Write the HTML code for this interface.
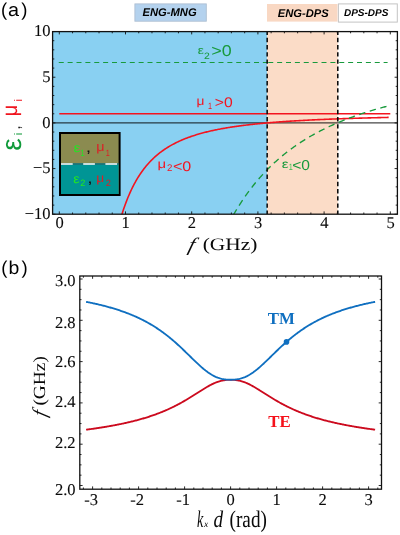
<!DOCTYPE html>
<html><head><meta charset="utf-8"><title>figure</title>
<style>html,body{margin:0;padding:0;background:#fff}svg{display:block;will-change:transform}</style></head>
<body>
<svg width="400" height="535" viewBox="0 0 400 535" text-rendering="geometricPrecision">
<rect width="400" height="535" fill="#fff"/>
<rect x="134.9" y="3.9" width="71.4" height="17.3" fill="#b4d2ee" stroke="#aebfd2" stroke-width="0.9"/>
<text x="169.6" y="16.1" text-anchor="middle" font-family="Liberation Sans, sans-serif" font-weight="bold" font-style="italic" font-size="11.2" fill="#000">ENG-MNG</text>
<rect x="267" y="4" width="70.5" height="17.6" fill="#f9d8c3"/>
<text x="303.2" y="16.6" text-anchor="middle" font-family="Liberation Sans, sans-serif" font-weight="bold" font-style="italic" font-size="11.2" fill="#000">ENG-DPS</text>
<rect x="338.4" y="3.9" width="58.9" height="18.2" fill="#fff" stroke="#c4c4c4" stroke-width="1"/>
<text x="366.2" y="16" text-anchor="middle" font-family="Liberation Sans, sans-serif" font-weight="bold" font-style="italic" font-size="10" fill="#000">DPS-DPS</text>
<text transform="translate(1.05,15.7) scale(1.0,1)" font-family="Liberation Sans, sans-serif" font-size="18.5" fill="#000">(</text>
<text transform="translate(7.97,15.7) scale(1.07,1)" font-family="Liberation Sans, sans-serif" font-size="18.5" fill="#000">a</text>
<text transform="translate(21.19,15.7) scale(1.0,1)" font-family="Liberation Sans, sans-serif" font-size="18.5" fill="#000">)</text>
<text transform="translate(1.35,273.7) scale(1.0,1)" font-family="Liberation Sans, sans-serif" font-size="18.5" fill="#000">(</text>
<text transform="translate(8.46,273.7) scale(1.05,1)" font-family="Liberation Sans, sans-serif" font-size="18.5" fill="#000">b</text>
<text transform="translate(21.49,273.7) scale(1.0,1)" font-family="Liberation Sans, sans-serif" font-size="18.5" fill="#000">)</text>
<rect x="52.6" y="31.6" width="214.57" height="182.60" fill="#89d0f2"/>
<rect x="267.17" y="31.6" width="70.63" height="182.60" fill="#fbdcc7"/>
<clipPath id="ca"><rect x="52.6" y="31.6" width="344.80" height="182.60"/></clipPath>
<g clip-path="url(#ca)" fill="none">
<line x1="52.6" x2="397.4" y1="122.90" y2="122.90" stroke="#000" stroke-opacity="0.72" stroke-width="1.25"/>
<path d="M58.75,62.5H267.5M268.25,62.5H387.6" stroke="#189a3c" stroke-width="1.2" stroke-dasharray="5 3.875"/>
<line x1="59.30" x2="390.30" y1="113.77" y2="113.77" stroke="#f3141f" stroke-width="1.5"/>
<path d="M120.87,217.90 L121.76,214.94 L122.66,212.10 L123.55,209.37 L124.45,206.76 L125.34,204.26 L126.24,201.85 L127.14,199.54 L128.03,197.32 L128.93,195.19 L129.82,193.13 L130.72,191.15 L131.61,189.25 L132.51,187.41 L133.40,185.64 L134.30,183.94 L135.20,182.29 L136.09,180.70 L136.99,179.17 L137.88,177.69 L138.78,176.25 L139.67,174.87 L140.57,173.53 L141.46,172.23 L142.36,170.98 L143.26,169.76 L144.15,168.59 L145.05,167.45 L145.94,166.35 L146.84,165.28 L147.73,164.24 L148.63,163.23 L149.52,162.25 L150.42,161.30 L151.32,160.38 L152.21,159.49 L153.11,158.62 L154.00,157.78 L154.90,156.96 L155.79,156.16 L156.69,155.38 L157.58,154.63 L158.48,153.89 L159.38,153.18 L160.27,152.48 L161.17,151.80 L162.06,151.14 L162.96,150.50 L163.85,149.87 L164.75,149.26 L165.65,148.67 L166.54,148.09 L167.44,147.52 L168.33,146.97 L169.23,146.43 L170.12,145.90 L171.02,145.39 L171.91,144.89 L172.81,144.40 L173.71,143.92 L174.60,143.46 L175.50,143.00 L176.39,142.55 L177.29,142.12 L178.18,141.69 L179.08,141.28 L179.97,140.87 L180.87,140.47 L181.77,140.08 L182.66,139.70 L183.56,139.33 L184.45,138.97 L185.35,138.61 L186.24,138.26 L187.14,137.92 L188.03,137.58 L188.93,137.25 L189.83,136.93 L190.72,136.62 L191.62,136.31 L192.51,136.01 L193.41,135.71 L194.30,135.42 L195.20,135.14 L196.09,134.86 L196.99,134.58 L197.89,134.32 L198.78,134.05 L199.68,133.80 L200.57,133.54 L201.47,133.29 L202.36,133.05 L203.26,132.81 L204.16,132.58 L205.05,132.35 L205.95,132.12 L206.84,131.90 L207.74,131.68 L208.63,131.46 L209.53,131.25 L210.42,131.05 L211.32,130.84 L212.22,130.65 L213.11,130.45 L214.01,130.26 L214.90,130.07 L215.80,129.88 L216.69,129.70 L217.59,129.52 L218.48,129.34 L219.38,129.17 L220.28,129.00 L221.17,128.83 L222.07,128.66 L222.96,128.50 L223.86,128.34 L224.75,128.18 L225.65,128.03 L226.54,127.88 L227.44,127.73 L228.34,127.58 L229.23,127.43 L230.13,127.29 L231.02,127.15 L231.92,127.01 L232.81,126.88 L233.71,126.74 L234.60,126.61 L235.50,126.48 L236.40,126.35 L237.29,126.22 L238.19,126.10 L239.08,125.98 L239.98,125.86 L240.87,125.74 L241.77,125.62 L242.67,125.50 L243.56,125.39 L244.46,125.28 L245.35,125.17 L246.25,125.06 L247.14,124.95 L248.04,124.85 L248.93,124.74 L249.83,124.64 L250.73,124.54 L251.62,124.44 L252.52,124.34 L253.41,124.24 L254.31,124.14 L255.20,124.05 L256.10,123.96 L256.99,123.86 L257.89,123.77 L258.79,123.68 L259.68,123.60 L260.58,123.51 L261.47,123.42 L262.37,123.34 L263.26,123.25 L264.16,123.17 L265.05,123.09 L265.95,123.01 L266.85,122.93 L267.74,122.85 L268.64,122.77 L269.53,122.70 L270.43,122.62 L271.32,122.55 L272.22,122.47 L273.11,122.40 L274.01,122.33 L274.91,122.26 L275.80,122.19 L276.70,122.12 L277.59,122.05 L278.49,121.98 L279.38,121.91 L280.28,121.85 L281.18,121.78 L282.07,121.72 L282.97,121.66 L283.86,121.59 L284.76,121.53 L285.65,121.47 L286.55,121.41 L287.44,121.35 L288.34,121.29 L289.24,121.23 L290.13,121.17 L291.03,121.12 L291.92,121.06 L292.82,121.00 L293.71,120.95 L294.61,120.89 L295.50,120.84 L296.40,120.79 L297.30,120.73 L298.19,120.68 L299.09,120.63 L299.98,120.58 L300.88,120.53 L301.77,120.48 L302.67,120.43 L303.56,120.38 L304.46,120.33 L305.36,120.28 L306.25,120.24 L307.15,120.19 L308.04,120.14 L308.94,120.10 L309.83,120.05 L310.73,120.01 L311.62,119.96 L312.52,119.92 L313.42,119.88 L314.31,119.83 L315.21,119.79 L316.10,119.75 L317.00,119.71 L317.89,119.67 L318.79,119.63 L319.69,119.59 L320.58,119.55 L321.48,119.51 L322.37,119.47 L323.27,119.43 L324.16,119.39 L325.06,119.35 L325.95,119.32 L326.85,119.28 L327.75,119.24 L328.64,119.21 L329.54,119.17 L330.43,119.13 L331.33,119.10 L332.22,119.06 L333.12,119.03 L334.01,119.00 L334.91,118.96 L335.81,118.93 L336.70,118.89 L337.60,118.86 L338.49,118.83 L339.39,118.80 L340.28,118.76 L341.18,118.73 L342.07,118.70 L342.97,118.67 L343.87,118.64 L344.76,118.61 L345.66,118.58 L346.55,118.55 L347.45,118.52 L348.34,118.49 L349.24,118.46 L350.13,118.43 L351.03,118.40 L351.93,118.37 L352.82,118.35 L353.72,118.32 L354.61,118.29 L355.51,118.26 L356.40,118.24 L357.30,118.21 L358.20,118.18 L359.09,118.16 L359.99,118.13 L360.88,118.10 L361.78,118.08 L362.67,118.05 L363.57,118.03 L364.46,118.00 L365.36,117.98 L366.26,117.95 L367.15,117.93 L368.05,117.91 L368.94,117.88 L369.84,117.86 L370.73,117.83 L371.63,117.81 L372.52,117.79 L373.42,117.77 L374.32,117.74 L375.21,117.72 L376.11,117.70 L377.00,117.68 L377.90,117.65 L378.79,117.63 L379.69,117.61 L380.58,117.59 L381.48,117.57 L382.38,117.55 L383.27,117.53 L384.17,117.51 L385.06,117.48 L385.96,117.46 L386.85,117.44 L387.75,117.42 L388.64,117.40" stroke="#f3141f" stroke-width="1.6"/>
<path d="M228.11,224.60 L228.92,223.08 L229.72,221.57 L230.53,220.09 L231.33,218.63 L232.14,217.19 L232.94,215.76 L233.75,214.36 L234.55,212.98 L235.36,211.62 L236.16,210.27 L236.97,208.94 L237.77,207.64 L238.58,206.34 L239.38,205.07 L240.19,203.81 L240.99,202.57 L241.80,201.35 L242.60,200.14 L243.41,198.95 L244.21,197.77 L245.02,196.61 L245.82,195.46 L246.63,194.33 L247.43,193.22 L248.24,192.11 L249.04,191.02 L249.85,189.95 L250.65,188.89 L251.46,187.84 L252.26,186.80 L253.07,185.78 L253.87,184.77 L254.68,183.77 L255.48,182.79 L256.29,181.82 L257.09,180.86 L257.90,179.91 L258.70,178.97 L259.51,178.04 L260.31,177.13 L261.12,176.22 L261.92,175.33 L262.73,174.44 L263.53,173.57 L264.34,172.71 L265.14,171.86 L265.95,171.01 L266.75,170.18 L267.56,169.36 L268.36,168.55 L269.17,167.74 L269.97,166.95 L270.78,166.16 L271.58,165.38 L272.39,164.62 L273.19,163.86 L274.00,163.10 L274.80,162.36 L275.61,161.63 L276.41,160.90 L277.22,160.18 L278.02,159.47 L278.83,158.77 L279.63,158.08 L280.44,157.39 L281.24,156.71 L282.05,156.04 L282.85,155.37 L283.66,154.71 L284.46,154.06 L285.27,153.42 L286.07,152.78 L286.88,152.15 L287.68,151.53 L288.49,150.91 L289.29,150.30 L290.10,149.70 L290.90,149.10 L291.71,148.51 L292.51,147.92 L293.32,147.34 L294.12,146.77 L294.93,146.20 L295.73,145.64 L296.54,145.08 L297.34,144.53 L298.15,143.98 L298.95,143.44 L299.76,142.91 L300.56,142.38 L301.37,141.86 L302.17,141.34 L302.98,140.83 L303.78,140.32 L304.59,139.81 L305.39,139.32 L306.20,138.82 L307.00,138.33 L307.81,137.85 L308.61,137.37 L309.42,136.90 L310.22,136.43 L311.03,135.96 L311.83,135.50 L312.64,135.04 L313.44,134.59 L314.25,134.14 L315.05,133.70 L315.86,133.26 L316.66,132.82 L317.47,132.39 L318.28,131.96 L319.08,131.54 L319.89,131.12 L320.69,130.71 L321.50,130.29 L322.30,129.89 L323.11,129.48 L323.91,129.08 L324.72,128.68 L325.52,128.29 L326.33,127.90 L327.13,127.51 L327.94,127.13 L328.74,126.75 L329.55,126.37 L330.35,126.00 L331.16,125.63 L331.96,125.27 L332.77,124.90 L333.57,124.54 L334.38,124.19 L335.18,123.83 L335.99,123.48 L336.79,123.14 L337.60,122.79 L338.40,122.45 L339.21,122.11 L340.01,121.78 L340.82,121.44 L341.62,121.11 L342.43,120.79 L343.23,120.46 L344.04,120.14 L344.84,119.82 L345.65,119.51 L346.45,119.19 L347.26,118.88 L348.06,118.57 L348.87,118.27 L349.67,117.96 L350.48,117.66 L351.28,117.36 L352.09,117.07 L352.89,116.78 L353.70,116.49 L354.50,116.20 L355.31,115.91 L356.11,115.63 L356.92,115.35 L357.72,115.07 L358.53,114.79 L359.33,114.51 L360.14,114.24 L360.94,113.97 L361.75,113.70 L362.55,113.44 L363.36,113.17 L364.16,112.91 L364.97,112.65 L365.77,112.39 L366.58,112.14 L367.38,111.88 L368.19,111.63 L368.99,111.38 L369.80,111.13 L370.60,110.89 L371.41,110.64 L372.21,110.40 L373.02,110.16 L373.82,109.92 L374.63,109.69 L375.43,109.45 L376.24,109.22 L377.04,108.99 L377.85,108.76 L378.65,108.53 L379.46,108.30 L380.26,108.08 L381.07,107.86 L381.87,107.64 L382.68,107.42 L383.48,107.20 L384.29,106.98 L385.09,106.77 L385.90,106.56 L386.70,106.34 L387.51,106.13 L388.31,105.93" stroke="#189a3c" stroke-width="1.35" stroke-dasharray="6.4 4.6"/>
<line x1="267.17" x2="267.17" y1="31.6" y2="214.2" stroke="#0b0b0b" stroke-width="1.55" stroke-dasharray="4.4 2.8" stroke-dashoffset="1"/>
<line x1="337.80" x2="337.80" y1="31.6" y2="214.2" stroke="#0b0b0b" stroke-width="1.55" stroke-dasharray="4.4 2.8" stroke-dashoffset="1"/>
</g>
<rect x="60" y="133" width="59.6" height="62" fill="#8b8b50" stroke="#000" stroke-width="2"/>
<rect x="61" y="164.5" width="57.6" height="29.5" fill="#009595"/>
<line x1="61" x2="118.6" y1="164" y2="164" stroke="#0a6f7f" stroke-width="1.6"/>
<line x1="61" x2="118.6" y1="164" y2="164" stroke="#fff" stroke-width="1.6" stroke-dasharray="11.7 10.5"/>
<text transform="translate(73.47,151.65) scale(1.24,1)" font-family="Liberation Sans, sans-serif" font-size="12.6" fill="#22e622">ε</text>
<text transform="translate(80.45,156.1) scale(0.8,1)" font-family="Liberation Sans, sans-serif" font-size="9.1" fill="#22e622">1</text>
<text transform="translate(85.75,152.1) scale(1.3,1)" font-family="Liberation Sans, sans-serif" font-size="15" fill="#111">,</text>
<text transform="translate(96.29,151.1) scale(1.1,1)" font-family="Liberation Sans, sans-serif" font-size="13.05" fill="#dc1f26">μ</text>
<text transform="translate(105.85,155.8) scale(0.8,1)" font-family="Liberation Sans, sans-serif" font-size="9.1" fill="#dc1f26">1</text>
<text transform="translate(73.27,182.5) scale(1.12,1)" font-family="Liberation Sans, sans-serif" font-size="12.6" fill="#22e622">ε</text>
<text transform="translate(80.14,186.0) scale(1.0,1)" font-family="Liberation Sans, sans-serif" font-size="9.2" fill="#22e622">2</text>
<text transform="translate(87.25,182.7) scale(1.3,1)" font-family="Liberation Sans, sans-serif" font-size="15" fill="#111">,</text>
<text transform="translate(96.33,182.1) scale(1.1,1)" font-family="Liberation Sans, sans-serif" font-size="12.5" fill="#dc1f26">μ</text>
<text transform="translate(105.79,186.3) scale(1.0,1)" font-family="Liberation Sans, sans-serif" font-size="9.2" fill="#dc1f26">2</text>
<text transform="translate(197.63,53.5) scale(1.22,1)" font-family="Liberation Sans, sans-serif" font-size="11.3" fill="#189a3c">ε</text>
<text transform="translate(203.88,58.6) scale(1.12,1)" font-family="Liberation Sans, sans-serif" font-size="9.3" fill="#189a3c">2</text>
<text transform="translate(211.37,56.4) scale(1.14,1)" font-family="Liberation Sans, sans-serif" font-size="15.7" fill="#189a3c">&gt;0</text>
<text transform="translate(196.58,104.9) scale(1.13,1)" font-family="Liberation Sans, sans-serif" font-size="12.15" fill="#f3141f">μ</text>
<text transform="translate(208.05,108.75) scale(0.8,1)" font-family="Liberation Sans, sans-serif" font-size="9.1" fill="#f3141f">1</text>
<text transform="translate(214.83,107.1) scale(1.12,1)" font-family="Liberation Sans, sans-serif" font-size="14" fill="#f3141f">&gt;0</text>
<text transform="translate(157.50,167.8) scale(1.23,1)" font-family="Liberation Sans, sans-serif" font-size="12.1" fill="#f3141f">μ</text>
<text transform="translate(167.01,170.75) scale(1.0,1)" font-family="Liberation Sans, sans-serif" font-size="9.7" fill="#f3141f">2</text>
<text transform="translate(172.96,170.5) scale(1.15,1)" font-family="Liberation Sans, sans-serif" font-size="14" fill="#f3141f">&lt;0</text>
<text transform="translate(281.73,167.6) scale(1.28,1)" font-family="Liberation Sans, sans-serif" font-size="11.9" fill="#189a3c">ε</text>
<text transform="translate(288.75,170.25) scale(0.8,1)" font-family="Liberation Sans, sans-serif" font-size="9.1" fill="#3cc050">1</text>
<text transform="translate(292.24,169.9) scale(1.09,1)" font-family="Liberation Sans, sans-serif" font-size="14.3" fill="#189a3c">&lt;0</text>
<rect x="52.6" y="31.6" width="344.80" height="182.60" fill="none" stroke="#111" stroke-width="1.3"/>
<path d="M59.30,214.2v-2.8M59.30,31.6v2.8M72.54,214.2v-1.7M72.54,31.6v1.7M85.78,214.2v-1.7M85.78,31.6v1.7M99.02,214.2v-1.7M99.02,31.6v1.7M112.26,214.2v-1.7M112.26,31.6v1.7M125.50,214.2v-2.8M125.50,31.6v2.8M138.74,214.2v-1.7M138.74,31.6v1.7M151.98,214.2v-1.7M151.98,31.6v1.7M165.22,214.2v-1.7M165.22,31.6v1.7M178.46,214.2v-1.7M178.46,31.6v1.7M191.70,214.2v-2.8M191.70,31.6v2.8M204.94,214.2v-1.7M204.94,31.6v1.7M218.18,214.2v-1.7M218.18,31.6v1.7M231.42,214.2v-1.7M231.42,31.6v1.7M244.66,214.2v-1.7M244.66,31.6v1.7M257.90,214.2v-2.8M257.90,31.6v2.8M271.14,214.2v-1.7M271.14,31.6v1.7M284.38,214.2v-1.7M284.38,31.6v1.7M297.62,214.2v-1.7M297.62,31.6v1.7M310.86,214.2v-1.7M310.86,31.6v1.7M324.10,214.2v-2.8M324.10,31.6v2.8M337.34,214.2v-1.7M337.34,31.6v1.7M350.58,214.2v-1.7M350.58,31.6v1.7M363.82,214.2v-1.7M363.82,31.6v1.7M377.06,214.2v-1.7M377.06,31.6v1.7M390.30,214.2v-2.8M390.30,31.6v2.8M52.6,214.25h2.8M397.4,214.25h-2.8M52.6,205.12h1.7M397.4,205.12h-1.7M52.6,195.98h1.7M397.4,195.98h-1.7M52.6,186.84h1.7M397.4,186.84h-1.7M52.6,177.71h1.7M397.4,177.71h-1.7M52.6,168.57h2.8M397.4,168.57h-2.8M52.6,159.44h1.7M397.4,159.44h-1.7M52.6,150.31h1.7M397.4,150.31h-1.7M52.6,141.17h1.7M397.4,141.17h-1.7M52.6,132.03h1.7M397.4,132.03h-1.7M52.6,122.90h2.8M397.4,122.90h-2.8M52.6,113.77h1.7M397.4,113.77h-1.7M52.6,104.63h1.7M397.4,104.63h-1.7M52.6,95.50h1.7M397.4,95.50h-1.7M52.6,86.36h1.7M397.4,86.36h-1.7M52.6,77.23h2.8M397.4,77.23h-2.8M52.6,68.09h1.7M397.4,68.09h-1.7M52.6,58.96h1.7M397.4,58.96h-1.7M52.6,49.82h1.7M397.4,49.82h-1.7M52.6,40.69h1.7M397.4,40.69h-1.7M52.6,31.55h2.8M397.4,31.55h-2.8" stroke="#111" stroke-width="0.9" fill="none"/>
<text x="59.5" y="228.2" text-anchor="middle" font-family="Liberation Serif, serif" font-size="16.5" fill="#0a0a0a" stroke="#0a0a0a" stroke-width="0.1">0</text>
<text x="125.7" y="228.2" text-anchor="middle" font-family="Liberation Serif, serif" font-size="16.5" fill="#0a0a0a" stroke="#0a0a0a" stroke-width="0.1">1</text>
<text x="191.9" y="228.2" text-anchor="middle" font-family="Liberation Serif, serif" font-size="16.5" fill="#0a0a0a" stroke="#0a0a0a" stroke-width="0.1">2</text>
<text x="258.1" y="228.2" text-anchor="middle" font-family="Liberation Serif, serif" font-size="16.5" fill="#0a0a0a" stroke="#0a0a0a" stroke-width="0.1">3</text>
<text x="324.3" y="228.2" text-anchor="middle" font-family="Liberation Serif, serif" font-size="16.5" fill="#0a0a0a" stroke="#0a0a0a" stroke-width="0.1">4</text>
<text x="390.5" y="228.2" text-anchor="middle" font-family="Liberation Serif, serif" font-size="16.5" fill="#0a0a0a" stroke="#0a0a0a" stroke-width="0.1">5</text>
<text x="50.6" y="36.2" text-anchor="end" font-family="Liberation Serif, serif" font-size="16.5" fill="#0a0a0a" stroke="#0a0a0a" stroke-width="0.1">10</text>
<text x="50.6" y="81.8" text-anchor="end" font-family="Liberation Serif, serif" font-size="16.5" fill="#0a0a0a" stroke="#0a0a0a" stroke-width="0.1">5</text>
<text x="50.6" y="127.5" text-anchor="end" font-family="Liberation Serif, serif" font-size="16.5" fill="#0a0a0a" stroke="#0a0a0a" stroke-width="0.1">0</text>
<text x="50.6" y="173.2" text-anchor="end" font-family="Liberation Serif, serif" font-size="16.5" fill="#0a0a0a" stroke="#0a0a0a" stroke-width="0.1">−5</text>
<text x="50.6" y="218.8" text-anchor="end" font-family="Liberation Serif, serif" font-size="16.5" fill="#0a0a0a" stroke="#0a0a0a" stroke-width="0.1">−10</text>
<text transform="translate(187.35,250.5) skewX(-15) scale(1.15,1)" font-family="Liberation Serif, serif" font-size="19.2" font-style="italic" fill="#0a0a0a">f</text>
<text transform="translate(202.7,250.2) scale(1.225,1)" font-family="Liberation Serif, serif" font-size="17.5" fill="#0a0a0a">(GHz)</text>
<text transform="translate(21.1,150.7) rotate(-90)" font-family="Liberation Sans, sans-serif" font-size="28.1" fill="#109a3a">ε</text>
<text transform="translate(21.75,135.2) rotate(-90)" font-family="Liberation Sans, sans-serif" font-size="11" fill="#109a3a">i</text>
<text transform="translate(20.45,129.8) rotate(-90)" font-family="Liberation Sans, sans-serif" font-size="16" fill="#222">,</text>
<text transform="translate(17.3,116.3) rotate(-90) scale(0.93,1)" font-family="Liberation Sans, sans-serif" font-size="21.4" fill="#f0141e">μ</text>
<text transform="translate(21.75,101.6) rotate(-90)" font-family="Liberation Sans, sans-serif" font-size="11" fill="#f0141e">i</text>
<path d="M86.09,429.69 L86.89,429.59 L87.69,429.48 L88.50,429.37 L89.30,429.27 L90.10,429.16 L90.90,429.05 L91.71,428.94 L92.51,428.82 L93.31,428.71 L94.12,428.60 L94.92,428.48 L95.72,428.36 L96.52,428.24 L97.33,428.13 L98.13,428.00 L98.93,427.88 L99.74,427.76 L100.54,427.63 L101.34,427.51 L102.14,427.38 L102.95,427.25 L103.75,427.12 L104.55,426.99 L105.36,426.86 L106.16,426.72 L106.96,426.59 L107.76,426.45 L108.57,426.31 L109.37,426.17 L110.17,426.03 L110.98,425.89 L111.78,425.74 L112.58,425.60 L113.38,425.45 L114.19,425.30 L114.99,425.15 L115.79,424.99 L116.60,424.84 L117.40,424.68 L118.20,424.52 L119.00,424.36 L119.81,424.20 L120.61,424.03 L121.41,423.87 L122.22,423.70 L123.02,423.53 L123.82,423.36 L124.62,423.18 L125.43,423.00 L126.23,422.82 L127.03,422.64 L127.84,422.46 L128.64,422.27 L129.44,422.09 L130.24,421.90 L131.05,421.70 L131.85,421.51 L132.65,421.31 L133.45,421.11 L134.26,420.91 L135.06,420.70 L135.86,420.49 L136.67,420.28 L137.47,420.07 L138.27,419.85 L139.07,419.63 L139.88,419.41 L140.68,419.19 L141.48,418.96 L142.29,418.73 L143.09,418.49 L143.89,418.26 L144.69,418.02 L145.50,417.77 L146.30,417.52 L147.10,417.27 L147.91,417.02 L148.71,416.76 L149.51,416.50 L150.31,416.24 L151.12,415.97 L151.92,415.70 L152.72,415.42 L153.53,415.14 L154.33,414.86 L155.13,414.57 L155.93,414.28 L156.74,413.99 L157.54,413.69 L158.34,413.38 L159.15,413.07 L159.95,412.76 L160.75,412.44 L161.55,412.12 L162.36,411.80 L163.16,411.47 L163.96,411.13 L164.77,410.79 L165.57,410.45 L166.37,410.10 L167.17,409.74 L167.98,409.39 L168.78,409.02 L169.58,408.65 L170.39,408.28 L171.19,407.90 L171.99,407.51 L172.79,407.13 L173.60,406.73 L174.40,406.33 L175.20,405.93 L176.01,405.51 L176.81,405.10 L177.61,404.68 L178.41,404.25 L179.22,403.82 L180.02,403.38 L180.82,402.94 L181.63,402.50 L182.43,402.04 L183.23,401.59 L184.03,401.13 L184.84,400.66 L185.64,400.19 L186.44,399.71 L187.25,399.23 L188.05,398.75 L188.85,398.26 L189.65,397.77 L190.46,397.27 L191.26,396.77 L192.06,396.27 L192.87,395.77 L193.67,395.26 L194.47,394.75 L195.27,394.24 L196.08,393.73 L196.88,393.22 L197.68,392.71 L198.49,392.20 L199.29,391.69 L200.09,391.18 L200.89,390.67 L201.70,390.16 L202.50,389.66 L203.30,389.17 L204.11,388.68 L204.91,388.19 L205.71,387.71 L206.51,387.24 L207.32,386.77 L208.12,386.32 L208.92,385.87 L209.73,385.44 L210.53,385.01 L211.33,384.60 L212.13,384.20 L212.94,383.82 L213.74,383.45 L214.54,383.09 L215.35,382.75 L216.15,382.43 L216.95,382.13 L217.75,381.84 L218.56,381.57 L219.36,381.32 L220.16,381.09 L220.97,380.88 L221.77,380.69 L222.57,380.52 L223.37,380.37 L224.18,380.24 L224.98,380.12 L225.78,380.03 L226.59,379.95 L227.39,379.89 L228.19,379.85 L228.99,379.82 L229.80,379.80 L230.60,379.80 L231.40,379.80 L232.21,379.82 L233.01,379.85 L233.81,379.89 L234.61,379.95 L235.42,380.03 L236.22,380.12 L237.02,380.24 L237.83,380.37 L238.63,380.52 L239.43,380.69 L240.23,380.88 L241.04,381.09 L241.84,381.32 L242.64,381.57 L243.45,381.84 L244.25,382.13 L245.05,382.43 L245.85,382.75 L246.66,383.09 L247.46,383.45 L248.26,383.82 L249.07,384.20 L249.87,384.60 L250.67,385.01 L251.47,385.44 L252.28,385.87 L253.08,386.32 L253.88,386.77 L254.69,387.24 L255.49,387.71 L256.29,388.19 L257.09,388.68 L257.90,389.17 L258.70,389.66 L259.50,390.16 L260.31,390.67 L261.11,391.18 L261.91,391.69 L262.71,392.20 L263.52,392.71 L264.32,393.22 L265.12,393.73 L265.93,394.24 L266.73,394.75 L267.53,395.26 L268.33,395.77 L269.14,396.27 L269.94,396.77 L270.74,397.27 L271.55,397.77 L272.35,398.26 L273.15,398.75 L273.95,399.23 L274.76,399.71 L275.56,400.19 L276.36,400.66 L277.17,401.13 L277.97,401.59 L278.77,402.04 L279.57,402.50 L280.38,402.94 L281.18,403.38 L281.98,403.82 L282.79,404.25 L283.59,404.68 L284.39,405.10 L285.19,405.51 L286.00,405.93 L286.80,406.33 L287.60,406.73 L288.41,407.13 L289.21,407.51 L290.01,407.90 L290.81,408.28 L291.62,408.65 L292.42,409.02 L293.22,409.39 L294.03,409.74 L294.83,410.10 L295.63,410.45 L296.43,410.79 L297.24,411.13 L298.04,411.47 L298.84,411.80 L299.65,412.12 L300.45,412.44 L301.25,412.76 L302.05,413.07 L302.86,413.38 L303.66,413.69 L304.46,413.99 L305.27,414.28 L306.07,414.57 L306.87,414.86 L307.67,415.14 L308.48,415.42 L309.28,415.70 L310.08,415.97 L310.89,416.24 L311.69,416.50 L312.49,416.76 L313.29,417.02 L314.10,417.27 L314.90,417.52 L315.70,417.77 L316.51,418.02 L317.31,418.26 L318.11,418.49 L318.91,418.73 L319.72,418.96 L320.52,419.19 L321.32,419.41 L322.13,419.63 L322.93,419.85 L323.73,420.07 L324.53,420.28 L325.34,420.49 L326.14,420.70 L326.94,420.91 L327.75,421.11 L328.55,421.31 L329.35,421.51 L330.15,421.70 L330.96,421.90 L331.76,422.09 L332.56,422.27 L333.36,422.46 L334.17,422.64 L334.97,422.82 L335.77,423.00 L336.58,423.18 L337.38,423.36 L338.18,423.53 L338.98,423.70 L339.79,423.87 L340.59,424.03 L341.39,424.20 L342.20,424.36 L343.00,424.52 L343.80,424.68 L344.60,424.84 L345.41,424.99 L346.21,425.15 L347.01,425.30 L347.82,425.45 L348.62,425.60 L349.42,425.74 L350.22,425.89 L351.03,426.03 L351.83,426.17 L352.63,426.31 L353.44,426.45 L354.24,426.59 L355.04,426.72 L355.84,426.86 L356.65,426.99 L357.45,427.12 L358.25,427.25 L359.06,427.38 L359.86,427.51 L360.66,427.63 L361.46,427.76 L362.27,427.88 L363.07,428.00 L363.87,428.13 L364.68,428.24 L365.48,428.36 L366.28,428.48 L367.08,428.60 L367.89,428.71 L368.69,428.82 L369.49,428.94 L370.30,429.05 L371.10,429.16 L371.90,429.27 L372.70,429.37 L373.51,429.48 L374.31,429.59 L375.11,429.69" stroke="#cc0a1e" stroke-width="1.85" fill="none"/>
<path d="M86.09,301.82 L86.89,301.98 L87.69,302.14 L88.50,302.30 L89.30,302.46 L90.10,302.63 L90.90,302.79 L91.71,302.96 L92.51,303.13 L93.31,303.31 L94.12,303.48 L94.92,303.66 L95.72,303.84 L96.52,304.02 L97.33,304.21 L98.13,304.39 L98.93,304.58 L99.74,304.78 L100.54,304.97 L101.34,305.17 L102.14,305.37 L102.95,305.57 L103.75,305.77 L104.55,305.98 L105.36,306.19 L106.16,306.40 L106.96,306.62 L107.76,306.83 L108.57,307.06 L109.37,307.28 L110.17,307.51 L110.98,307.74 L111.78,307.97 L112.58,308.21 L113.38,308.45 L114.19,308.69 L114.99,308.94 L115.79,309.19 L116.60,309.44 L117.40,309.70 L118.20,309.96 L119.00,310.22 L119.81,310.49 L120.61,310.76 L121.41,311.03 L122.22,311.31 L123.02,311.60 L123.82,311.88 L124.62,312.17 L125.43,312.47 L126.23,312.77 L127.03,313.07 L127.84,313.38 L128.64,313.69 L129.44,314.01 L130.24,314.33 L131.05,314.66 L131.85,314.99 L132.65,315.33 L133.45,315.67 L134.26,316.02 L135.06,316.37 L135.86,316.72 L136.67,317.08 L137.47,317.45 L138.27,317.82 L139.07,318.20 L139.88,318.59 L140.68,318.98 L141.48,319.37 L142.29,319.77 L143.09,320.18 L143.89,320.59 L144.69,321.01 L145.50,321.44 L146.30,321.87 L147.10,322.31 L147.91,322.76 L148.71,323.21 L149.51,323.67 L150.31,324.13 L151.12,324.60 L151.92,325.08 L152.72,325.57 L153.53,326.06 L154.33,326.57 L155.13,327.07 L155.93,327.59 L156.74,328.11 L157.54,328.64 L158.34,329.18 L159.15,329.73 L159.95,330.28 L160.75,330.84 L161.55,331.41 L162.36,331.99 L163.16,332.58 L163.96,333.17 L164.77,333.77 L165.57,334.38 L166.37,335.00 L167.17,335.63 L167.98,336.26 L168.78,336.90 L169.58,337.55 L170.39,338.21 L171.19,338.88 L171.99,339.55 L172.79,340.23 L173.60,340.92 L174.40,341.62 L175.20,342.32 L176.01,343.03 L176.81,343.75 L177.61,344.47 L178.41,345.20 L179.22,345.94 L180.02,346.69 L180.82,347.44 L181.63,348.19 L182.43,348.95 L183.23,349.72 L184.03,350.48 L184.84,351.26 L185.64,352.04 L186.44,352.81 L187.25,353.60 L188.05,354.38 L188.85,355.17 L189.65,355.95 L190.46,356.74 L191.26,357.53 L192.06,358.31 L192.87,359.09 L193.67,359.87 L194.47,360.65 L195.27,361.42 L196.08,362.19 L196.88,362.95 L197.68,363.70 L198.49,364.44 L199.29,365.18 L200.09,365.91 L200.89,366.62 L201.70,367.33 L202.50,368.02 L203.30,368.70 L204.11,369.36 L204.91,370.01 L205.71,370.64 L206.51,371.26 L207.32,371.86 L208.12,372.44 L208.92,372.99 L209.73,373.53 L210.53,374.05 L211.33,374.55 L212.13,375.02 L212.94,375.47 L213.74,375.90 L214.54,376.31 L215.35,376.69 L216.15,377.05 L216.95,377.38 L217.75,377.69 L218.56,377.97 L219.36,378.23 L220.16,378.47 L220.97,378.69 L221.77,378.88 L222.57,379.05 L223.37,379.19 L224.18,379.32 L224.98,379.42 L225.78,379.51 L226.59,379.58 L227.39,379.63 L228.19,379.66 L228.99,379.69 L229.80,379.70 L230.60,379.70 L231.40,379.70 L232.21,379.69 L233.01,379.66 L233.81,379.63 L234.61,379.58 L235.42,379.51 L236.22,379.42 L237.02,379.32 L237.83,379.19 L238.63,379.05 L239.43,378.88 L240.23,378.69 L241.04,378.47 L241.84,378.23 L242.64,377.97 L243.45,377.69 L244.25,377.38 L245.05,377.05 L245.85,376.69 L246.66,376.31 L247.46,375.90 L248.26,375.47 L249.07,375.02 L249.87,374.55 L250.67,374.05 L251.47,373.53 L252.28,372.99 L253.08,372.44 L253.88,371.86 L254.69,371.26 L255.49,370.64 L256.29,370.01 L257.09,369.36 L257.90,368.70 L258.70,368.02 L259.50,367.33 L260.31,366.62 L261.11,365.91 L261.91,365.18 L262.71,364.44 L263.52,363.70 L264.32,362.95 L265.12,362.19 L265.93,361.42 L266.73,360.65 L267.53,359.87 L268.33,359.09 L269.14,358.31 L269.94,357.53 L270.74,356.74 L271.55,355.95 L272.35,355.17 L273.15,354.38 L273.95,353.60 L274.76,352.81 L275.56,352.04 L276.36,351.26 L277.17,350.48 L277.97,349.72 L278.77,348.95 L279.57,348.19 L280.38,347.44 L281.18,346.69 L281.98,345.94 L282.79,345.20 L283.59,344.47 L284.39,343.75 L285.19,343.03 L286.00,342.32 L286.80,341.62 L287.60,340.92 L288.41,340.23 L289.21,339.55 L290.01,338.88 L290.81,338.21 L291.62,337.55 L292.42,336.90 L293.22,336.26 L294.03,335.63 L294.83,335.00 L295.63,334.38 L296.43,333.77 L297.24,333.17 L298.04,332.58 L298.84,331.99 L299.65,331.41 L300.45,330.84 L301.25,330.28 L302.05,329.73 L302.86,329.18 L303.66,328.64 L304.46,328.11 L305.27,327.59 L306.07,327.07 L306.87,326.57 L307.67,326.06 L308.48,325.57 L309.28,325.08 L310.08,324.60 L310.89,324.13 L311.69,323.67 L312.49,323.21 L313.29,322.76 L314.10,322.31 L314.90,321.87 L315.70,321.44 L316.51,321.01 L317.31,320.59 L318.11,320.18 L318.91,319.77 L319.72,319.37 L320.52,318.98 L321.32,318.59 L322.13,318.20 L322.93,317.82 L323.73,317.45 L324.53,317.08 L325.34,316.72 L326.14,316.37 L326.94,316.02 L327.75,315.67 L328.55,315.33 L329.35,314.99 L330.15,314.66 L330.96,314.33 L331.76,314.01 L332.56,313.69 L333.36,313.38 L334.17,313.07 L334.97,312.77 L335.77,312.47 L336.58,312.17 L337.38,311.88 L338.18,311.60 L338.98,311.31 L339.79,311.03 L340.59,310.76 L341.39,310.49 L342.20,310.22 L343.00,309.96 L343.80,309.70 L344.60,309.44 L345.41,309.19 L346.21,308.94 L347.01,308.69 L347.82,308.45 L348.62,308.21 L349.42,307.97 L350.22,307.74 L351.03,307.51 L351.83,307.28 L352.63,307.06 L353.44,306.83 L354.24,306.62 L355.04,306.40 L355.84,306.19 L356.65,305.98 L357.45,305.77 L358.25,305.57 L359.06,305.37 L359.86,305.17 L360.66,304.97 L361.46,304.78 L362.27,304.58 L363.07,304.39 L363.87,304.21 L364.68,304.02 L365.48,303.84 L366.28,303.66 L367.08,303.48 L367.89,303.31 L368.69,303.13 L369.49,302.96 L370.30,302.79 L371.10,302.63 L371.90,302.46 L372.70,302.30 L373.51,302.14 L374.31,301.98 L375.11,301.82" stroke="#0f6fc0" stroke-width="1.85" fill="none"/>
<circle cx="286.5" cy="341.9" r="2.8" fill="#0f6fc0"/>
<text x="267.7" y="323.8" font-family="Liberation Serif, serif" font-weight="bold" font-size="16.8" fill="#0f6fc0">TM</text>
<text x="268.3" y="426.5" font-family="Liberation Serif, serif" font-weight="bold" font-size="16.8" fill="#f5111b">TE</text>
<rect x="79.8" y="276.0" width="301.70" height="213.20" fill="none" stroke="#111" stroke-width="1.3"/>
<path d="M83.40,489.2v-1.7M83.40,276.0v1.7M92.60,489.2v-2.8M92.60,276.0v2.8M101.80,489.2v-1.7M101.80,276.0v1.7M111.00,489.2v-1.7M111.00,276.0v1.7M120.20,489.2v-1.7M120.20,276.0v1.7M129.40,489.2v-1.7M129.40,276.0v1.7M138.60,489.2v-2.8M138.60,276.0v2.8M147.80,489.2v-1.7M147.80,276.0v1.7M157.00,489.2v-1.7M157.00,276.0v1.7M166.20,489.2v-1.7M166.20,276.0v1.7M175.40,489.2v-1.7M175.40,276.0v1.7M184.60,489.2v-2.8M184.60,276.0v2.8M193.80,489.2v-1.7M193.80,276.0v1.7M203.00,489.2v-1.7M203.00,276.0v1.7M212.20,489.2v-1.7M212.20,276.0v1.7M221.40,489.2v-1.7M221.40,276.0v1.7M230.60,489.2v-2.8M230.60,276.0v2.8M239.80,489.2v-1.7M239.80,276.0v1.7M249.00,489.2v-1.7M249.00,276.0v1.7M258.20,489.2v-1.7M258.20,276.0v1.7M267.40,489.2v-1.7M267.40,276.0v1.7M276.60,489.2v-2.8M276.60,276.0v2.8M285.80,489.2v-1.7M285.80,276.0v1.7M295.00,489.2v-1.7M295.00,276.0v1.7M304.20,489.2v-1.7M304.20,276.0v1.7M313.40,489.2v-1.7M313.40,276.0v1.7M322.60,489.2v-2.8M322.60,276.0v2.8M331.80,489.2v-1.7M331.80,276.0v1.7M341.00,489.2v-1.7M341.00,276.0v1.7M350.20,489.2v-1.7M350.20,276.0v1.7M359.40,489.2v-1.7M359.40,276.0v1.7M368.60,489.2v-2.8M368.60,276.0v2.8M377.80,489.2v-1.7M377.80,276.0v1.7M79.8,485.50h2.8M381.5,485.50h-2.8M79.8,475.18h1.7M381.5,475.18h-1.7M79.8,464.85h1.7M381.5,464.85h-1.7M79.8,454.53h1.7M381.5,454.53h-1.7M79.8,444.20h2.8M381.5,444.20h-2.8M79.8,433.88h1.7M381.5,433.88h-1.7M79.8,423.55h1.7M381.5,423.55h-1.7M79.8,413.22h1.7M381.5,413.22h-1.7M79.8,402.90h2.8M381.5,402.90h-2.8M79.8,392.57h1.7M381.5,392.57h-1.7M79.8,382.25h1.7M381.5,382.25h-1.7M79.8,371.93h1.7M381.5,371.93h-1.7M79.8,361.60h2.8M381.5,361.60h-2.8M79.8,351.27h1.7M381.5,351.27h-1.7M79.8,340.95h1.7M381.5,340.95h-1.7M79.8,330.62h1.7M381.5,330.62h-1.7M79.8,320.30h2.8M381.5,320.30h-2.8M79.8,309.98h1.7M381.5,309.98h-1.7M79.8,299.65h1.7M381.5,299.65h-1.7M79.8,289.32h1.7M381.5,289.32h-1.7M79.8,279.00h2.8M381.5,279.00h-2.8" stroke="#111" stroke-width="0.9" fill="none"/>
<text x="91.1" y="505.4" text-anchor="middle" font-family="Liberation Serif, serif" font-size="16.5" fill="#0a0a0a" stroke="#0a0a0a" stroke-width="0.1">-3</text>
<text x="137.1" y="505.4" text-anchor="middle" font-family="Liberation Serif, serif" font-size="16.5" fill="#0a0a0a" stroke="#0a0a0a" stroke-width="0.1">-2</text>
<text x="183.1" y="505.4" text-anchor="middle" font-family="Liberation Serif, serif" font-size="16.5" fill="#0a0a0a" stroke="#0a0a0a" stroke-width="0.1">-1</text>
<text x="230.6" y="505.4" text-anchor="middle" font-family="Liberation Serif, serif" font-size="16.5" fill="#0a0a0a" stroke="#0a0a0a" stroke-width="0.1">0</text>
<text x="276.6" y="505.4" text-anchor="middle" font-family="Liberation Serif, serif" font-size="16.5" fill="#0a0a0a" stroke="#0a0a0a" stroke-width="0.1">1</text>
<text x="322.6" y="505.4" text-anchor="middle" font-family="Liberation Serif, serif" font-size="16.5" fill="#0a0a0a" stroke="#0a0a0a" stroke-width="0.1">2</text>
<text x="368.6" y="505.4" text-anchor="middle" font-family="Liberation Serif, serif" font-size="16.5" fill="#0a0a0a" stroke="#0a0a0a" stroke-width="0.1">3</text>
<text x="75.6" y="494.8" text-anchor="end" font-family="Liberation Serif, serif" font-size="16.5" fill="#0a0a0a" stroke="#0a0a0a" stroke-width="0.1">2.0</text>
<text x="75.6" y="448.3" text-anchor="end" font-family="Liberation Serif, serif" font-size="16.5" fill="#0a0a0a" stroke="#0a0a0a" stroke-width="0.1">2.2</text>
<text x="75.6" y="407.4" text-anchor="end" font-family="Liberation Serif, serif" font-size="16.5" fill="#0a0a0a" stroke="#0a0a0a" stroke-width="0.1">2.4</text>
<text x="75.6" y="366.75" text-anchor="end" font-family="Liberation Serif, serif" font-size="16.5" fill="#0a0a0a" stroke="#0a0a0a" stroke-width="0.1">2.6</text>
<text x="75.6" y="327.9" text-anchor="end" font-family="Liberation Serif, serif" font-size="16.5" fill="#0a0a0a" stroke="#0a0a0a" stroke-width="0.1">2.8</text>
<text x="75.6" y="286.3" text-anchor="end" font-family="Liberation Serif, serif" font-size="16.5" fill="#0a0a0a" stroke="#0a0a0a" stroke-width="0.1">3.0</text>
<text transform="translate(45.9,417.4) rotate(-90) skewX(-14) scale(1.0,1)" font-family="Liberation Serif, serif" font-size="19.6" font-style="italic" fill="#0a0a0a">f</text>
<text transform="translate(45.2,405.6) rotate(-90) scale(1.14,1)" font-family="Liberation Serif, serif" font-size="17" fill="#0a0a0a">(GHz)</text>
<text transform="translate(197.1,526.8) scale(0.64,1.08)" font-family="Liberation Serif, serif" font-size="22" font-style="italic" fill="#0a0a0a">k</text>
<text x="203.9" y="526.8" font-family="Liberation Serif, serif" font-size="9.5" font-style="italic" fill="#0a0a0a">x</text>
<text transform="translate(213.4,526.8) scale(0.875,1.08)" font-family="Liberation Serif, serif" font-size="22" font-style="italic" fill="#0a0a0a">d</text>
<text transform="translate(229.55,526.8) scale(0.875,1.08)" font-family="Liberation Serif, serif" font-size="22" fill="#0a0a0a">(rad)</text>
</svg>
</body></html>
